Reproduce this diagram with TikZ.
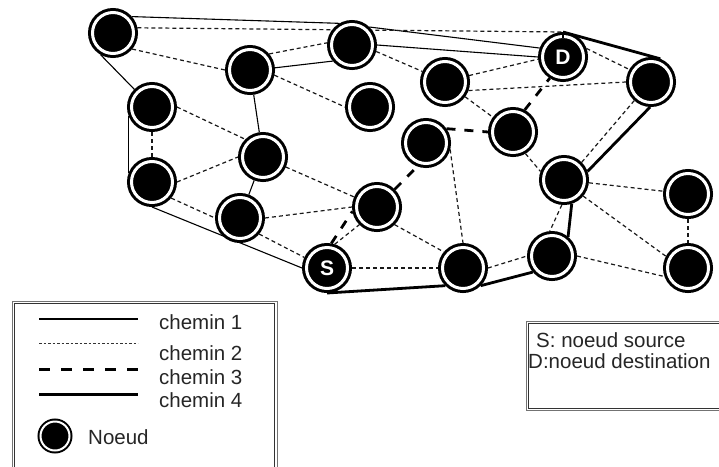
\documentclass[tikz,border=0pt]{standalone}
\usepackage{fontspec}
\setmainfont{Liberation Sans}
\pgfdeclarelayer{edges}
\pgfsetlayers{edges,main}
\begin{document}
\begin{tikzpicture}[x=1pt,y=-1pt,
  netnode/.style={circle, fill=black, draw=black, line width=3pt, double=white,
    double distance=3pt, minimum size=41pt, inner sep=0pt, outer sep=4.5pt,
    text=white, font=\fontsize{21}{24}\selectfont\bfseries},
  keynode/.style={circle, fill=black, draw=black, line width=2pt, double=white,
    double distance=2pt, minimum size=29pt, inner sep=0pt},
  c1/.style={line width=1.1pt},
  c2/.style={line width=1.2pt, dash pattern=on 4pt off 3pt, black!90},
  c3/.style={line width=2.8pt, dash pattern=on 9pt off 9pt},
  c4/.style={line width=2.8pt},
  lbl/.style={anchor=base west, inner sep=0pt, font=\fontsize{20.5}{24}\selectfont, text=black!85},
  boxout/.style={draw=black!55, line width=1pt},
  boxin/.style={draw=black!80, line width=1pt},
]
\useasboundingbox (0,0) rectangle (719,466);
\clip (0,0) rectangle (719,466);

% network nodes
\node[netnode] (a1)  at (113,33)  {};
\node[netnode] (a2)  at (352,45)  {};
\node[netnode] (a3)  at (250,70)  {};
\node[netnode] (d)   at (563,57)  {D};
\node[netnode] (a5)  at (651,82)  {};
\node[netnode] (a6)  at (445,82)  {};
\node[netnode] (a7)  at (370,107) {};
\node[netnode] (a8)  at (152,107) {};
\node[netnode] (a9)  at (513,132) {};
\node[netnode] (a10) at (426,143) {};
\node[netnode] (a11) at (263,157) {};
\node[netnode] (a12) at (152,182) {};
\node[netnode] (a13) at (564,180) {};
\node[netnode] (a14) at (688,194) {};
\node[netnode] (a15) at (377,207) {};
\node[netnode] (a16) at (240,218) {};
\node[netnode] (s)   at (327,268) {S};
\node[netnode] (a18) at (463,268) {};
\node[netnode] (a19) at (552,256) {};
\node[netnode] (a20) at (688,268) {};

\draw[line width=1.5pt] (d.north) -- ++(0,6);

\begin{pgfonlayer}{edges}
  \fill[white] (0,0) rectangle (719,466);
  % chemin 1
  \draw[c1] (a1.41) -- (a2.120);
  \draw[c1] (a2.46) -- (d.159);
  \draw[c1] (a2.east) -- (d.west);
  \draw[c1] (a3.5) -- (a2.220);
  \draw[c1] (a3) -- (a11);
  \draw[c1] (a11) -- (a16);
  \draw[c1] (a1.240) -- (a8.135);
  \draw[c1] (a8.200) -- (a12.160);
  \draw[c1] (a12.south) -- (s.west);
  % chemin 2
  \draw[c2] (a1.12) -- (d.north);
  \draw[c2] (a1.-40) -- (a3.180);
  \draw[c2] (a3.40) -- (a2.175);
  \draw[c2] (a3.-12) -- (a7.west);
  \draw[c2] (a2.-15) -- (a6.155);
  \draw[c2] (a6.15) -- (d.185);
  \draw[c2] (a6.-20) -- (a5.west);
  \draw[c2] (a6) -- (a9);
  \draw[c2] (d.20) -- (a5.150);
  \draw[c2] (a5.228) -- (a13.45);
  \draw[c2] (a13) -- (a14);
  \draw[c2] (a13.-40) -- (a20.152);
  \draw[c2] (a14) -- (a20);
  \draw[c2] (a19.east) -- (a20.200);
  \draw[c2] (a13.265) -- (a19.95);
  \draw[c2] (a18.east) -- (a19.west);
  \draw[c2] (s.east) -- (a18.west);
  \draw[c2] (s.72) -- (a15.225);
  \draw[c2] (a15.-45) -- (a18.140);
  \draw[c2] (a10.-15) -- (a18.north);
  \draw[c2] (a9.-60) -- (a13.160);
  \draw[c2] (a11) -- (a15);
  \draw[c2] (a16.east) -- (a15.180);
  \draw[c2] (a16.-40) -- (s.155);
  \draw[c2] (a12.-40) -- (a16.west);
  \draw[c2] (a12.east) -- (a11.west);
  \draw[c2] (a8.east) -- (a11.135);
  \draw[c2] (a8.south) -- (a12.north);
  % chemin 3
  \draw[c3] (s.80) -- (a15.190);
  \draw[c3] (a15.45) -- (a10.250);
  \draw[c3] (a10.35) -- (a9.west);
  \draw[c3] (a9.62) -- (d.238);
  % chemin 4
  \draw[c4] (s.south) -- (a18.225);
  \draw[c4] (a18.-45) -- (a19.220);
  \draw[c4] (a19.50) -- (a13.-72);
  \draw[c4] (a13.20) -- (a5.-92);
  \draw[c4] (a5.68) -- (d.north);
\end{pgfonlayer}

% legend
\draw[boxout] (12,301) rectangle (277,475);
\draw[boxin] (14.5,303.5) rectangle (274.5,475);
\draw[c1] (39,319) -- (138,319);
\draw[line width=1pt, dash pattern=on 2.5pt off 2pt, black!80] (39,343) -- (138,343);
\draw[line width=3pt, dash pattern=on 10.5pt off 11.5pt] (39,369) -- (138,369);
\draw[line width=3pt] (39,394) -- (138,394);
\node[lbl] (t1) at (159,329) {chemin 1};
\node[lbl] (t2) at (159,360) {chemin 2};
\node[lbl] (t3) at (159,384) {chemin 3};
\node[lbl] (t4) at (159,407) {chemin 4};
\node[keynode] (key) at (55,436) {};
\node[lbl] (t5) at (88,444) {Noeud};

% source / destination note
\draw[boxout] (526,321) rectangle (730,410.5);
\draw[boxin] (528.5,323.5) rectangle (730,408);
\node[lbl] (ts) at (536,347) {S: noeud source};
\node[lbl] (td) at (528,368) {D:noeud destination};
\end{tikzpicture}
\end{document}
